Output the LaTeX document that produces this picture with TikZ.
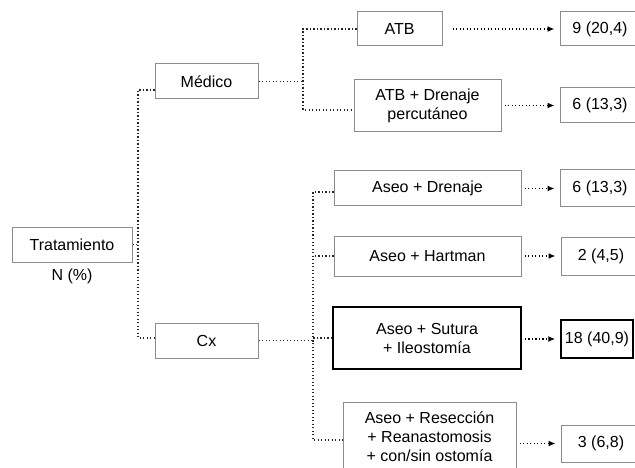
\documentclass[tikz,border=0pt]{standalone}
\usepackage{fontspec}
\setmainfont{Liberation Sans}
\usetikzlibrary{arrows.meta}
\tikzset{
  box/.style={draw=black!45, line width=1pt, fill=white, inner sep=0pt, align=center,
    font=\fontsize{16}{19}\selectfont},
  boldbox/.style={box, draw=black, line width=1.5pt},
  conn/.style={draw=black!85, line width=1.6pt, dash pattern=on 1.4pt off 2.1pt},
  arr/.style={conn, draw=black, -{Latex[length=7pt,width=6pt]}, shorten >=5pt, shorten <=3pt},
}
\begin{document}
\begin{tikzpicture}[x=1pt,y=-1pt]
\path[use as bounding box] (0,0) rectangle (635,468);
\begin{scope}
\clip (0,0) rectangle (635,468);
\node[box, minimum width=120pt, minimum height=35pt] (trat) at (72,244.5) {Tratamiento};
\node[font=\fontsize{16}{19}\selectfont] (np) at (72,276) {N (\%)};
\node[box, minimum width=103pt, minimum height=35pt] (med) at (206.5,81.5) {Médico};
\node[box, minimum width=103pt, minimum height=35pt] (cx) at (206.5,340.5) {Cx};
\node[box, minimum width=85pt, minimum height=34pt] (atb) at (399.5,29) {ATB};
\node[box, minimum width=147pt, minimum height=52pt] (atbd) at (427.5,106) {ATB + Drenaje\\percutáneo};
\node[box, minimum width=187pt, minimum height=35pt] (ad) at (427.5,188.5) {Aseo + Drenaje};
\node[box, minimum width=187pt, minimum height=40pt] (ah) at (427.5,256) {Aseo + Hartman};
\node[boldbox, minimum width=188pt, minimum height=62pt] (as) at (427,338) {Aseo + Sutura\\+ Ileostomía};
\node[box, minimum width=173pt, minimum height=70pt] (ar) at (429.5,437) {Aseo + Resección\\+ Reanastomosis\\+ con/sin ostomía};
\node[box, minimum width=80pt, minimum height=34pt] (r1) at (600,29) {9 (20,4)};
\node[box, minimum width=80pt, minimum height=35pt] (r2) at (600,105.5) {6 (13,3)};
\node[box, minimum width=80pt, minimum height=37pt] (r3) at (600,188.5) {6 (13,3)};
\node[box, minimum width=80pt, minimum height=38pt] (r4) at (601,256) {2 (4,5)};
\node[boldbox, minimum width=72pt, minimum height=38pt] (r5) at (597,339) {18 (40,9)};
\node[box, minimum width=80pt, minimum height=37pt] (r6) at (601,443.5) {3 (6,8)};
\coordinate (j1) at (138,244.5);
\coordinate (j2) at (303,81.5);
\coordinate (j3) at (313,340.5);
\draw[conn] (trat.east) -- (j1);
\draw[conn] ([yshift=-8.5pt]med.west) -| (j1) |- ([yshift=2.5pt]cx.west);
\draw[conn] (med.east) -- (j2);
\draw[conn] (atb.west) -| (j2) |- ([yshift=-4pt]atbd.west);
\draw[conn] (cx.east) -- (j3);
\draw[conn] ([yshift=-3.5pt]ad.west) -| (j3) |- ([yshift=-3pt]ar.west);
\draw[conn] (ah.west) -- (ah.west -| j3);
\draw[conn] (as.west) -- (as.west -| j3);
\draw[arr, shorten <=10pt] (atb.east) -- (r1.west);
\draw[arr] (atbd.east |- r2.west) -- (r2.west);
\draw[arr] (ad.east) -- (r3.west);
\draw[arr] (ah.east |- r4.west) -- (r4.west);
\draw[arr] (as.east |- r5.west) -- (r5.west);
\draw[arr] (ar.east |- r6.west) -- (r6.west);
\end{scope}
\end{tikzpicture}
\end{document}
